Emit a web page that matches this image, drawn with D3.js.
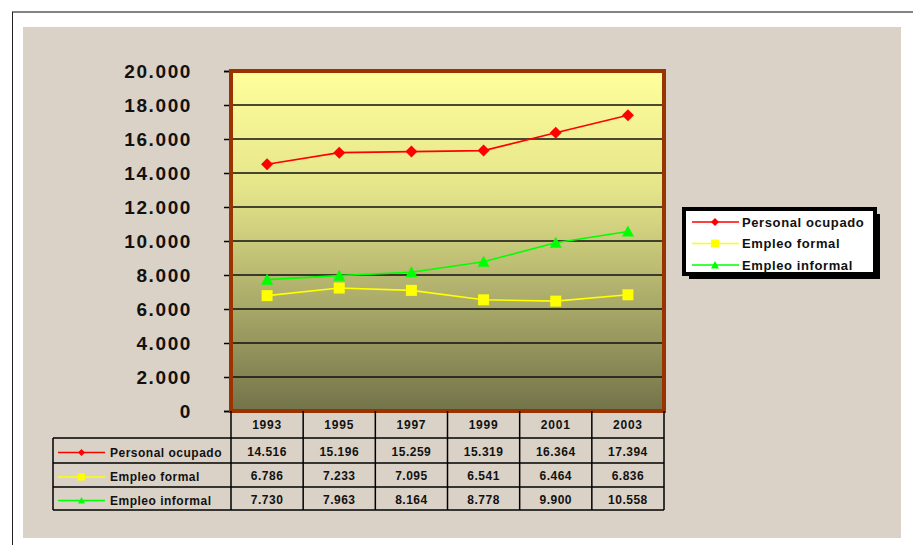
<!DOCTYPE html>
<html>
<head>
<meta charset="utf-8">
<script src="https://cdn.jsdelivr.net/npm/d3@7"></script>
<style>
  html, body { margin: 0; padding: 0; background: #ffffff; }
  svg { display: block; font-family: Arial, "Liberation Sans", sans-serif; }
</style>
</head>
<body>
<svg id="chart" width="913" height="545"></svg>
<script>
// Employment series (thousands of people), 1993-2003
const years = ["1993", "1995", "1997", "1999", "2001", "2003"];
const personalOcupado = [14516, 15196, 15259, 15319, 16364, 17394];
const empleoFormal = [6786, 7233, 7095, 6541, 6464, 6836];
const empleoInformal = [7730, 7963, 8164, 8778, 9900, 10558];
const seriesNames = ["Personal ocupado", "Empleo formal", "Empleo informal"];
const yTicks = [0, 2000, 4000, 6000, 8000, 10000, 12000, 14000, 16000, 18000, 20000];

const series = [
  { name: seriesNames[0], values: personalOcupado, color: "#ff0000", marker: "diamond" },
  { name: seriesNames[1], values: empleoFormal, color: "#ffff00", marker: "square" },
  { name: seriesNames[2], values: empleoInformal, color: "#00ff00", marker: "triangle" }
];

const fmt = v => d3.format(",")(v).replace(/,/g, ".");

const svg = d3.select("#chart");

// page frame and background panel
svg.append("line").attr("x1", 12).attr("x2", 913).attr("y1", 12).attr("y2", 12)
  .attr("stroke", "#5a5a5a").attr("stroke-width", 1.5);
svg.append("line").attr("x1", 12.5).attr("x2", 12.5).attr("y1", 12).attr("y2", 545)
  .attr("stroke", "#222").attr("stroke-width", 1);
svg.append("rect").attr("x", 23).attr("y", 27).attr("width", 878).attr("height", 511)
  .attr("fill", "#dad2c6");

const plot = { left: 231, right: 664, top: 71, bottom: 411 };

const x = d3.scaleBand().domain(years).range([plot.left, plot.right]);
const y = d3.scaleLinear().domain([0, 20000]).range([plot.bottom, plot.top]);

// plot background gradient
const defs = svg.append("defs");
const grad = defs.append("linearGradient").attr("id", "plotFill")
  .attr("x1", 0).attr("y1", 0).attr("x2", 0).attr("y2", 1);
grad.append("stop").attr("offset", "0%").attr("stop-color", "#ffff9c");
grad.append("stop").attr("offset", "35%").attr("stop-color", "#e4e48a");
grad.append("stop").attr("offset", "100%").attr("stop-color", "#73734a");

svg.append("rect")
  .attr("x", plot.left).attr("y", plot.top)
  .attr("width", plot.right - plot.left).attr("height", plot.bottom - plot.top)
  .attr("fill", "url(#plotFill)");

// horizontal gridlines
svg.append("g").selectAll("line")
  .data(yTicks.filter(t => t > 0 && t < 20000))
  .join("line")
  .attr("x1", plot.left).attr("x2", plot.right)
  .attr("y1", d => y(d)).attr("y2", d => y(d))
  .attr("stroke", "#111").attr("stroke-width", 1.5);

// y axis with tick marks on the outside
const yAxis = d3.axisLeft(y).tickValues(yTicks).tickSize(7).tickPadding(32).tickFormat(fmt);
const gy = svg.append("g").attr("transform", `translate(${plot.left},0)`).call(yAxis);
gy.select(".domain").attr("stroke", "#000").attr("stroke-width", 1.5);
gy.selectAll(".tick line").attr("stroke", "#000").attr("stroke-width", 1.5);
gy.selectAll(".tick text")
  .attr("font-size", 19).attr("font-weight", "bold").attr("fill", "#111")
  .attr("letter-spacing", "1.6px").attr("dy", "0.36em");

// plot frame
svg.append("rect")
  .attr("x", plot.left).attr("y", plot.top)
  .attr("width", plot.right - plot.left).attr("height", plot.bottom - plot.top)
  .attr("fill", "none").attr("stroke", "#993300").attr("stroke-width", 4);

// marker shapes
const markerPath = (type, size) => {
  const s = size / 2;
  if (type === "diamond") return `M0,${-s}L${s},0L0,${s}L${-s},0Z`;
  if (type === "square") return `M${-s},${-s}H${s}V${s}H${-s}Z`;
  return `M0,${-s}L${s},${s * 0.85}L${-s},${s * 0.85}Z`;
};

const cx = d => x(d) + x.bandwidth() / 2;
const line = d3.line().x((d, i) => cx(years[i])).y(d => y(d));

// draw series in back-to-front order: informal, formal, personal ocupado
[series[2], series[1], series[0]].forEach(s => {
  const g = svg.append("g");
  g.append("path").attr("d", line(s.values))
    .attr("fill", "none").attr("stroke", s.color).attr("stroke-width", 1.6);
  g.selectAll("path.m").data(s.values).join("path").attr("class", "m")
    .attr("transform", (d, i) => `translate(${cx(years[i])},${y(d)})`)
    .attr("d", markerPath(s.marker, s.marker === "square" ? 11 : 12))
    .attr("fill", s.color);
});

// data table under the plot
const tableLeft = 53;
const rowLines = [plot.bottom, 438, 463, 487, 510];
const tg = svg.append("g");
const edges = x.domain().map(d => x(d)).concat([plot.right]);
// vertical lines for year columns
edges.forEach(ex => {
  tg.append("line").attr("x1", ex).attr("x2", ex)
    .attr("y1", plot.bottom).attr("y2", rowLines[4])
    .attr("stroke", "#000").attr("stroke-width", 1.5);
});
// left border of series-name column
tg.append("line").attr("x1", tableLeft).attr("x2", tableLeft)
  .attr("y1", rowLines[1]).attr("y2", rowLines[4])
  .attr("stroke", "#000").attr("stroke-width", 1.5);
// horizontal rules
rowLines.slice(1).forEach(ry => {
  tg.append("line").attr("x1", tableLeft).attr("x2", plot.right)
    .attr("y1", ry).attr("y2", ry)
    .attr("stroke", "#000").attr("stroke-width", 1.5);
});

// year headers
tg.selectAll("text.yr").data(years).join("text").attr("class", "yr")
  .attr("x", d => cx(d)).attr("y", (rowLines[0] + rowLines[1]) / 2)
  .attr("dy", "0.36em").attr("text-anchor", "middle")
  .attr("font-size", 12).attr("font-weight", "bold").attr("letter-spacing", "0.8px")
  .attr("fill", "#111").text(d => d);

series.forEach((s, r) => {
  const ry = (rowLines[r + 1] + rowLines[r + 2]) / 2 + 2;
  tg.append("line").attr("x1", 58).attr("x2", 105).attr("y1", ry).attr("y2", ry)
    .attr("stroke", s.color).attr("stroke-width", 1.5);
  tg.append("path").attr("transform", `translate(81.5,${ry})`)
    .attr("d", markerPath(s.marker, 7)).attr("fill", s.color);
  tg.append("text").attr("x", 110).attr("y", ry).attr("dy", "0.36em")
    .attr("font-size", 12).attr("font-weight", "bold").attr("letter-spacing", "0.5px")
    .attr("fill", "#111").text(s.name);
  tg.selectAll(null).data(s.values).join("text")
    .attr("x", (d, i) => cx(years[i])).attr("y", ry - 1).attr("dy", "0.36em")
    .attr("text-anchor", "middle")
    .attr("font-size", 12).attr("font-weight", "bold").attr("letter-spacing", "0.5px")
    .attr("fill", "#111").text(d => fmt(d));
});

// legend box with drop shadow
const lg = svg.append("g");
const lb = { x: 684, y: 209, w: 191, h: 65 };
lg.append("rect").attr("x", lb.x + 5).attr("y", lb.y + 5).attr("width", lb.w).attr("height", lb.h)
  .attr("fill", "#000");
lg.append("rect").attr("x", lb.x).attr("y", lb.y).attr("width", lb.w).attr("height", lb.h)
  .attr("fill", "#fff").attr("stroke", "#000").attr("stroke-width", 4);
series.forEach((s, r) => {
  const ly = 222 + r * 21.5;
  lg.append("line").attr("x1", 692).attr("x2", 739).attr("y1", ly).attr("y2", ly)
    .attr("stroke", s.color).attr("stroke-width", 1.5);
  lg.append("path").attr("transform", `translate(715,${ly})`)
    .attr("d", markerPath(s.marker, 8)).attr("fill", s.color);
  lg.append("text").attr("x", 742).attr("y", ly).attr("dy", "0.36em")
    .attr("font-size", 13).attr("font-weight", "bold").attr("letter-spacing", "0.6px")
    .attr("fill", "#111").text(s.name);
});
</script>
</body>
</html>
